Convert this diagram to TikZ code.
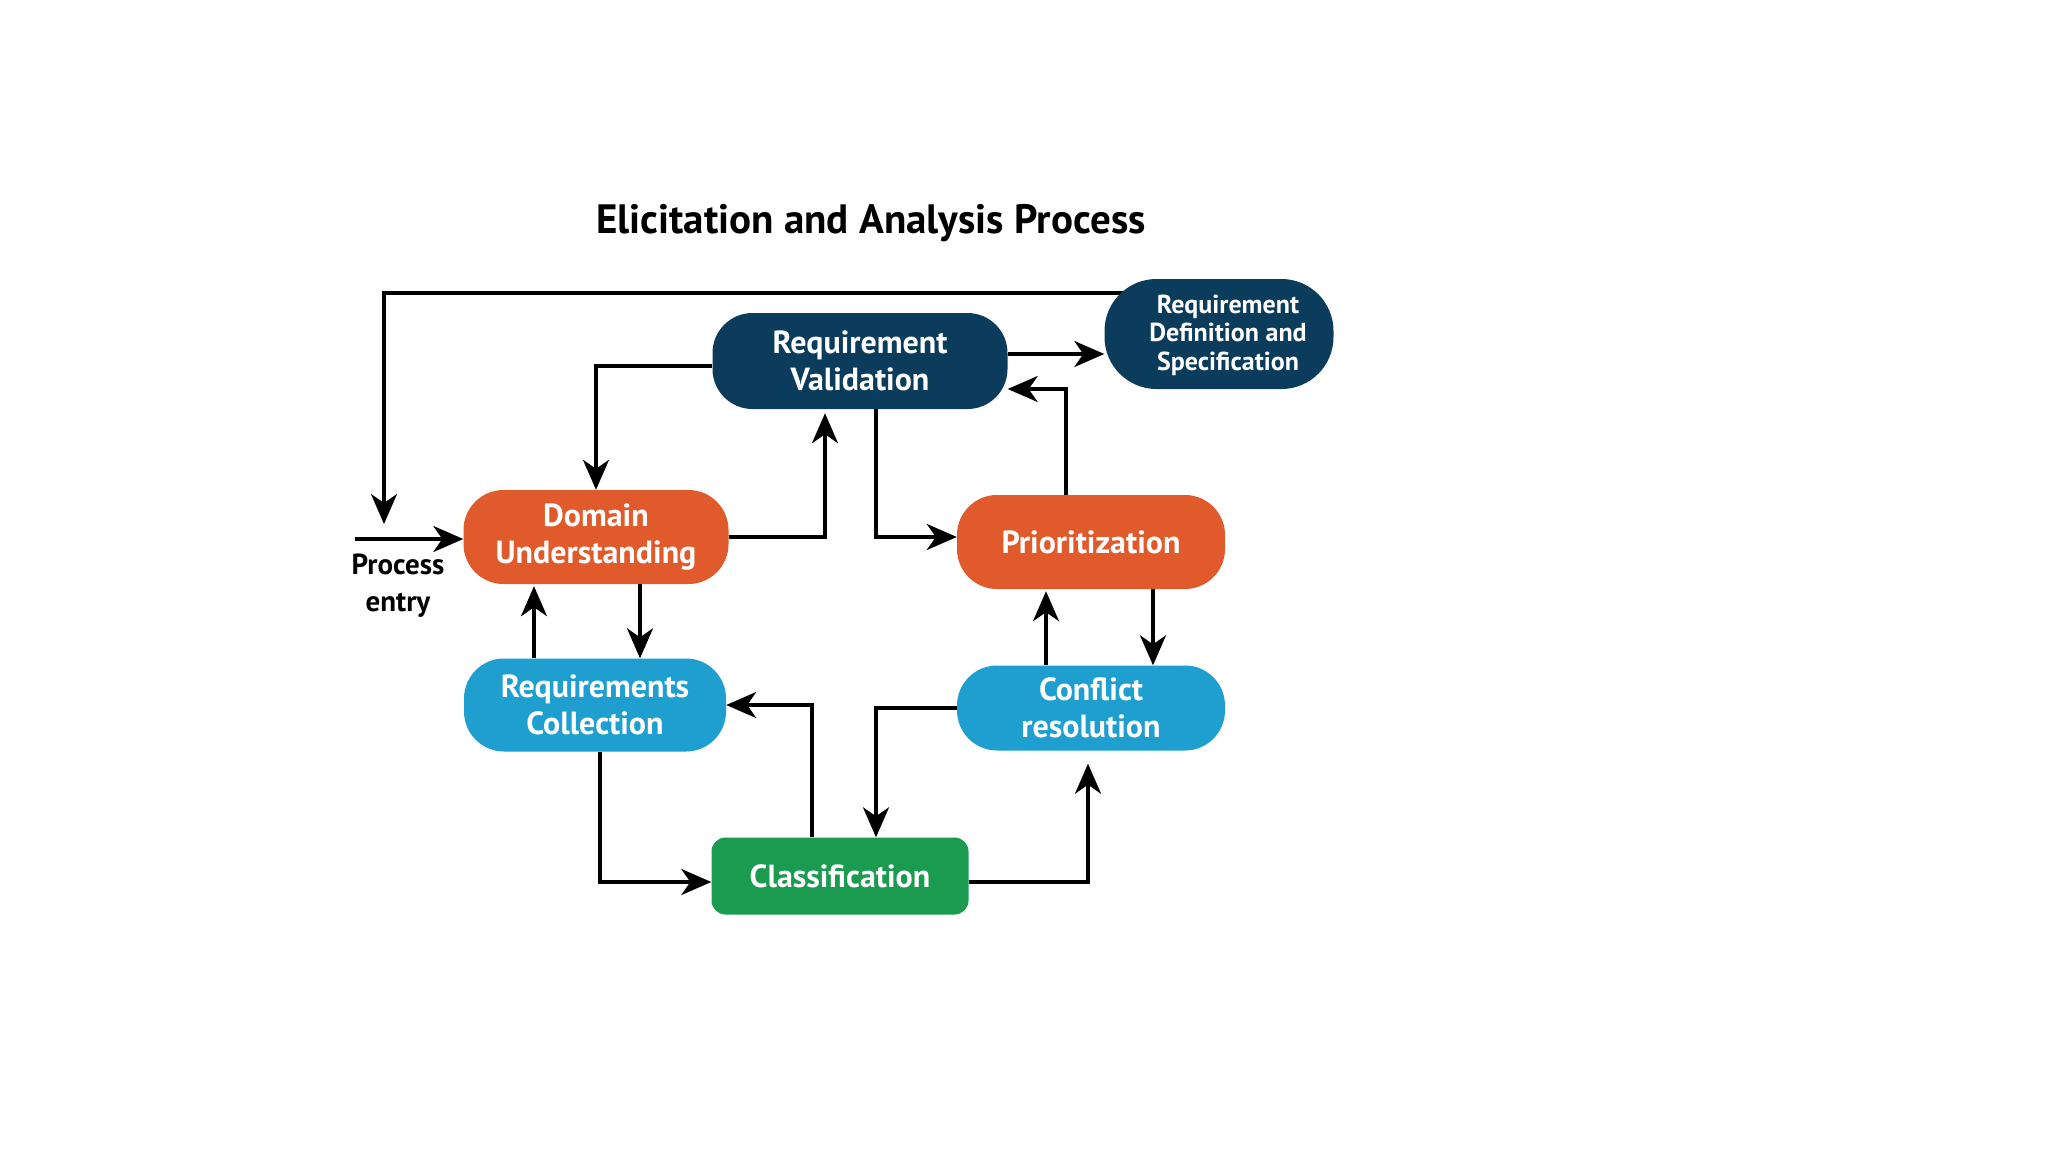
\documentclass[tikz,border=0pt]{standalone}
\usepackage{fontspec}
\setmainfont{PT Sans}
\usetikzlibrary{arrows.meta,backgrounds}
\definecolor{navy}{HTML}{0C3C5C}
\definecolor{orng}{HTML}{E05A2B}
\definecolor{lblue}{HTML}{1E9FCF}
\definecolor{grn}{HTML}{1A9B50}
\tikzset{
  boxstyle/.style={rectangle, rounded corners=40pt, text=white, align=center, inner sep=0pt,
    font=\bfseries\fontsize{32}{37}\selectfont},
  arr/.style={line width=3.4pt, -{Stealth[length=30pt,width=26pt,inset=9pt]}},
  ln/.style={line width=3.4pt}
}
\begin{document}
\begin{tikzpicture}[x=1pt,y=-1pt]
\useasboundingbox (0,0) rectangle (2048,1152);
\node (title) at (871,223) {\bfseries\fontsize{41}{48}\selectfont Elicitation and Analysis Process};
\node[boxstyle, fill=navy, minimum width=295pt, minimum height=96pt] (rv) at (860,361) {Requirement\\Validation};
\node[boxstyle, fill=navy, rounded corners=52pt, minimum width=229pt, minimum height=110pt,
  font=\bfseries\fontsize{26}{28}\selectfont] (rds) at (1219,334) {};
\node[align=center, text=white, inner sep=0pt, font=\bfseries\fontsize{26}{28.5}\selectfont] (rdst) at (1228,335) {Requirement\\Definition and\\Specification};
\node[boxstyle, fill=orng, minimum width=265pt, minimum height=94pt] (du) at (596,537) {Domain\\Understanding};
\node[boxstyle, fill=orng, minimum width=268pt, minimum height=94pt] (pr) at (1091,542) {Prioritization};
\node[boxstyle, fill=lblue, minimum width=262pt, minimum height=93pt] (rc) at (595,705) {Requirements\\Collection};
\node[boxstyle, fill=lblue, minimum width=268pt, minimum height=85pt] (cr) at (1091,708) {Conflict\\resolution};
\node[boxstyle, fill=grn, rounded corners=14pt, minimum width=257pt, minimum height=77pt] (cl) at (840,876) {Classification};
\node[align=center, font=\bfseries\fontsize{29}{37}\selectfont] (pel) at (398,586) {Process\\entry};
\coordinate (tl) at (384,293);
\coordinate (pe1) at (384,524);
\coordinate (pe0) at (355,539);
\begin{scope}[on background layer]
\fill[white] (0,0) rectangle (2048,1152);
\draw[arr] (rds.center |- tl) -- (tl) -- (pe1);
\end{scope}
\draw[arr] (pe0) -- (pe0 -| du.west);
\draw[arr] ([yshift=-5pt]rv.west) -| (du.north);
\draw[arr] (du.east) -| ([xshift=-35pt,yshift=-4pt]rv.south);
\draw[arr] ([xshift=16pt]rv.south) |- ([yshift=5pt]pr.west);
\draw[arr] ([yshift=7pt]rv.east) -- ([yshift=7pt]rv.east -| rds.west);
\draw[arr] ([xshift=-25pt]pr.north) |- ([yshift=-28pt]rv.east);
\draw[arr] ([xshift=44pt]du.south) -- ([xshift=44pt]du.south |- rc.north);
\draw[arr] ([xshift=-61pt]rc.north) -- ([xshift=-61pt,yshift=-2pt]rc.north |- du.south);
\draw[arr] ([xshift=62pt]pr.south) -- ([xshift=62pt]pr.south |- cr.north);
\draw[arr] ([xshift=-45pt]cr.north) -- ([xshift=-45pt,yshift=-2pt]cr.north |- pr.south);
\draw[arr] (cr.west) -| ([xshift=36pt]cl.north);
\draw[arr] ([xshift=-28pt]cl.north) |- (rc.east);
\draw[arr] ([xshift=5pt]rc.south) |- ([yshift=-6pt]cl.west);
\draw[arr] ([yshift=-6pt]cl.east) -| ([xshift=-3pt,yshift=-13pt]cr.south);
\end{tikzpicture}
\end{document}
